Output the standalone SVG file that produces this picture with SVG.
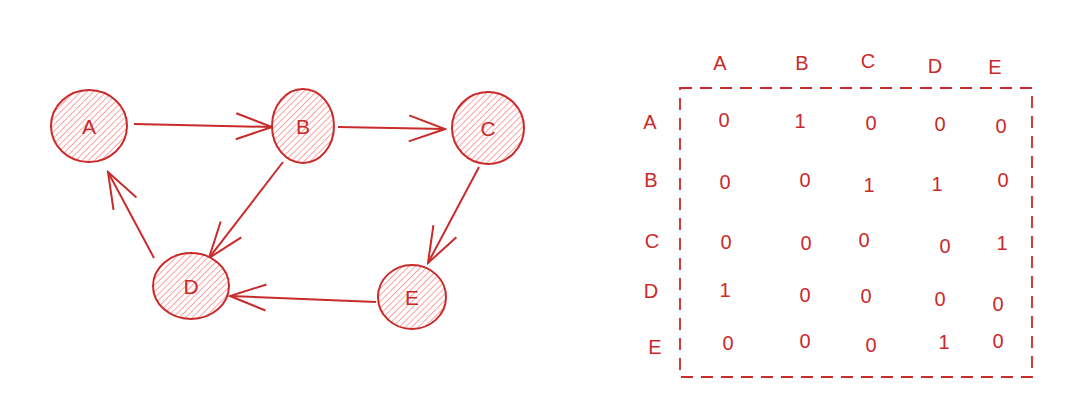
<svg xmlns="http://www.w3.org/2000/svg" width="1069" height="413" viewBox="0 0 1069 413">
<style>
.node ellipse{fill:url(#hatch);stroke:#c92a2a;stroke-width:2}
.lbl{font-family:"Liberation Sans",Arial,sans-serif;font-size:21px;fill:#c92a2a;text-anchor:middle;dominant-baseline:central}
.edge{stroke:#c92a2a;stroke-width:2;fill:none;marker-end:url(#arr)}
.grid{stroke:#c92a2a;stroke-width:1.8;fill:none;stroke-dasharray:12 8}
.m{font-family:"Liberation Sans",Arial,sans-serif;font-size:20px;fill:#c92a2a;text-anchor:middle;dominant-baseline:central}
</style>
<defs>
<pattern id="hatch" patternUnits="userSpaceOnUse" width="4.5" height="4.5" patternTransform="rotate(45)">
<rect width="4.5" height="4.5" fill="#fff"/>
<line x1="0" y1="0" x2="0" y2="4.5" stroke="#ff8787" stroke-width="1.5"/>
</pattern>
<marker id="arr" markerUnits="userSpaceOnUse" viewBox="0 0 40 30" refX="38" refY="15" markerWidth="40" markerHeight="30" orient="auto">
<path d="M2,2 L38,15 L2,28" fill="none" stroke="#c92a2a" stroke-width="2"/>
</marker>
</defs>
<rect width="1069" height="413" fill="#fff"/>
<g id="edges">
<line class="edge" x1="134" y1="124" x2="272" y2="127"/>
<line class="edge" x1="338" y1="127" x2="445" y2="129"/>
<line class="edge" x1="479" y1="167" x2="428" y2="263"/>
<line class="edge" x1="283" y1="162" x2="209" y2="258"/>
<line class="edge" x1="154" y1="258" x2="108" y2="172"/>
<line class="edge" x1="376" y1="302" x2="230" y2="296"/>
</g>
<g id="node-A" class="node"><ellipse cx="89" cy="126" rx="38" ry="36"/><text class="lbl" x="89" y="126">A</text></g>
<g id="node-B" class="node"><ellipse cx="303" cy="126" rx="31" ry="37"/><text class="lbl" x="303" y="126">B</text></g>
<g id="node-C" class="node"><ellipse cx="488" cy="128" rx="36" ry="36"/><text class="lbl" x="488" y="128">C</text></g>
<g id="node-D" class="node"><ellipse cx="191" cy="286" rx="38" ry="33"/><text class="lbl" x="191" y="286">D</text></g>
<g id="node-E" class="node"><ellipse cx="412" cy="297" rx="34" ry="32"/><text class="lbl" x="412" y="297">E</text></g>
<g id="matrix">
<rect class="grid" x="680" y="88" width="352" height="289"/>
<text class="m" x="720" y="63">A</text>
<text class="m" x="802" y="63">B</text>
<text class="m" x="868" y="61">C</text>
<text class="m" x="935" y="66">D</text>
<text class="m" x="995" y="67">E</text>
<text class="m" x="650" y="122">A</text>
<text class="m" x="651" y="180">B</text>
<text class="m" x="652" y="241">C</text>
<text class="m" x="651" y="291">D</text>
<text class="m" x="655" y="347">E</text>
<text class="m" x="724" y="120">0</text><text class="m" x="800" y="121">1</text><text class="m" x="871" y="123">0</text><text class="m" x="940" y="124">0</text><text class="m" x="1001" y="126">0</text>
<text class="m" x="725" y="182">0</text><text class="m" x="805" y="180">0</text><text class="m" x="869" y="185">1</text><text class="m" x="937" y="184">1</text><text class="m" x="1003" y="180">0</text>
<text class="m" x="726" y="242">0</text><text class="m" x="806" y="243">0</text><text class="m" x="864" y="240">0</text><text class="m" x="945" y="246">0</text><text class="m" x="1002" y="243">1</text>
<text class="m" x="725" y="290">1</text><text class="m" x="805" y="295">0</text><text class="m" x="866" y="296">0</text><text class="m" x="940" y="299">0</text><text class="m" x="998" y="304">0</text>
<text class="m" x="728" y="343">0</text><text class="m" x="805" y="341">0</text><text class="m" x="871" y="345">0</text><text class="m" x="944" y="342">1</text><text class="m" x="998" y="341">0</text>
</g>
</svg>
